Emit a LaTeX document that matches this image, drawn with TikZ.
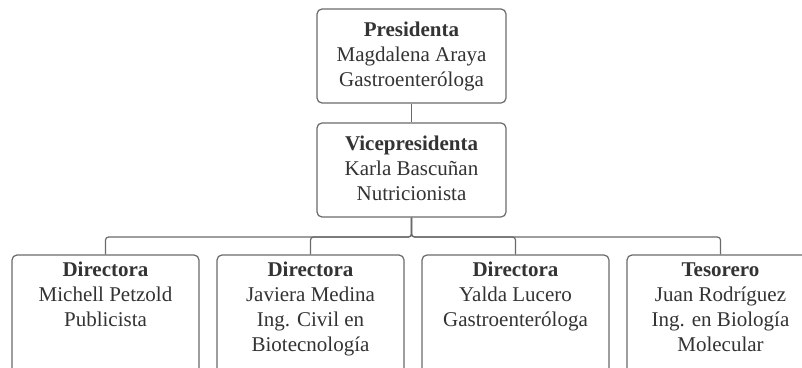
\documentclass[tikz,border=0pt]{standalone}
\usepackage{fontspec}
\setmainfont{Liberation Serif}
\definecolor{edge}{HTML}{6A6A6A}
\definecolor{ink}{HTML}{333333}
\tikzset{
  card/.style={draw=edge, line width=1.2pt, rounded corners=5pt, rectangle, inner sep=0pt},
  topcard/.style={card, minimum width=189pt, minimum height=94pt},
  lowcard/.style={card, minimum width=187pt, minimum height=125pt},
  cardtext/.style={anchor=north, inner sep=0pt, align=center, text=ink,
    font=\fontsize{21}{25}\selectfont},
  conn/.style={draw=edge, line width=1.2pt, rounded corners=3pt}
}
\newcommand{\firstline}{\rule{0pt}{16pt}}
\begin{document}
\begin{tikzpicture}[x=1pt,y=-1pt]
\useasboundingbox (0,0) rectangle (802,367);
\clip (0,0) rectangle (802,367);
\fill[white] (0,0) rectangle (802,367);

% boxes
\node[topcard] (pres) at (411.5,56) {};
\node[topcard] (vice) at (411.5,170) {};
\node[lowcard] (d1) at (105.5,317.5) {};
\node[lowcard] (d2) at (310.5,317.5) {};
\node[lowcard] (d3) at (515.5,317.5) {};
\node[lowcard] (tes) at (720.5,317.5) {};

% texts
\node[cardtext] (presT) at (411.5,20) {\firstline\textbf{Presidenta}\\Magdalena Araya\\Gastroenteróloga};
\node[cardtext] (viceT) at (411.5,134) {\firstline\textbf{Vicepresidenta}\\Karla Bascuñan\\Nutricionista};
\node[cardtext] (d1T) at (105.5,260) {\firstline\textbf{Directora}\\Michell Petzold\\Publicista};
\node[cardtext] (d2T) at (310.5,260) {\firstline\textbf{Directora}\\Javiera Medina\\Ing. Civil en\\Biotecnología};
\node[cardtext] (d3T) at (515.5,260) {\firstline\textbf{Directora}\\Yalda Lucero\\Gastroenteróloga};
\node[cardtext] (tesT) at (720.5,260) {\firstline\textbf{Tesorero}\\Juan Rodríguez\\Ing. en Biología\\Molecular};

% connectors
\coordinate (bus) at (411.5,237);
\draw[conn] (pres.south) -- (vice.north);
\foreach \c in {d1,d2,d3,tes}
  \draw[conn] (vice.south) -- (vice.south |- bus) -| (\c.north);
\end{tikzpicture}
\end{document}
